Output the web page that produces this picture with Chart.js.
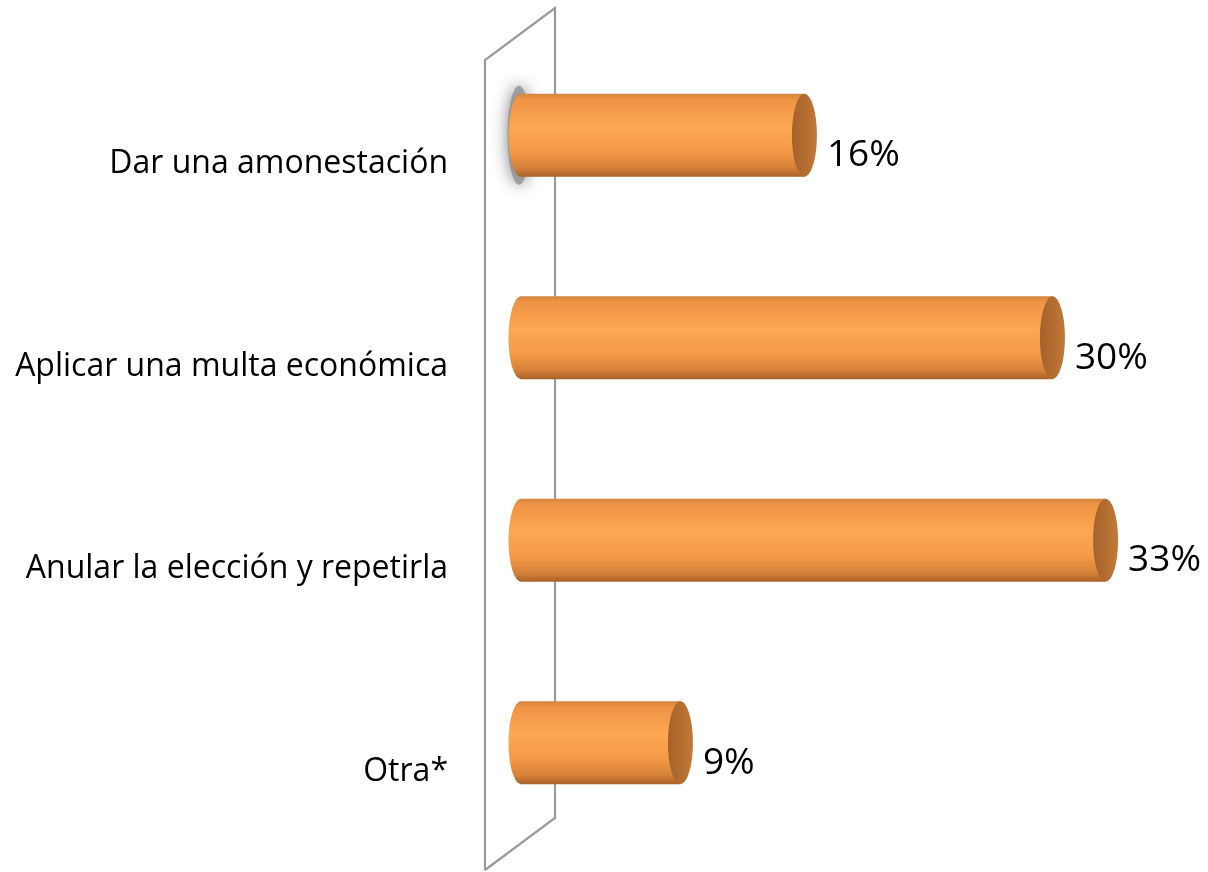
<!DOCTYPE html>
<html>
<head>
<meta charset="utf-8">
<script src="https://cdn.jsdelivr.net/npm/chart.js@4.4.1/dist/chart.umd.min.js"></script>
<style>
  html, body { margin: 0; padding: 0; background: #fff; overflow: hidden; }
  canvas { display: block; }
</style>
</head>
<body>
<canvas id="chart" width="1208" height="872"></canvas>
<script>
const categories = ['Dar una amonestación', 'Aplicar una multa económica', 'Anular la elección y repetirla', 'Otra*'];
const values = [16, 30, 33, 9];
const valueLabels = ['16%', '30%', '33%', '9%'];

const FONT = "'Open Sans', sans-serif";
const DEPTH = { x: 70, y: -52 };   // back wall offset
const CAP_RX = 12.5;

// pared lateral (perspectiva 3D)
const wallPlugin = {
    id: 'wall',
    beforeDatasetsDraw(chart) {
        const { ctx, chartArea: a } = chart;
        ctx.save();
        ctx.strokeStyle = '#9a9a9a';
        ctx.lineWidth = 2.2;
        ctx.beginPath();
        ctx.moveTo(a.left, a.bottom);
        ctx.lineTo(a.left, a.top);
        ctx.lineTo(a.left + DEPTH.x, a.top + DEPTH.y);
        ctx.lineTo(a.left + DEPTH.x, a.bottom + DEPTH.y);
        ctx.lineTo(a.left, a.bottom);
        ctx.stroke();
        ctx.restore();
    }
};

// cilindros + etiquetas
const cylinderPlugin = {
    id: 'cylinders',
    afterDatasetsDraw(chart) {
        const { ctx } = chart;
        const dx = DEPTH.x / 2 + 1, dy = DEPTH.y / 2;
        chart.getDatasetMeta(0).data.forEach((bar, i) => {
            const x0 = bar.base + dx, x1 = bar.x + dx;
            const yc = bar.y + dy, ry = bar.height / 2;
            const top = yc - ry, bottom = yc + ry;

            ctx.save();
            if (i === 0) {
                // sombra suave en el extremo izquierdo
                ctx.save();
                ctx.shadowColor = 'rgba(70,70,70,0.9)';
                ctx.shadowBlur = 16;
                ctx.fillStyle = 'rgba(140,140,140,0.75)';
                ctx.beginPath();
                ctx.ellipse(x0 - 2, yc, CAP_RX - 1, ry + 8, 0, 0, Math.PI * 2);
                ctx.fill();
                ctx.restore();
            }

            const g = ctx.createLinearGradient(0, top, 0, bottom);
            g.addColorStop(0, '#d4843e');
            g.addColorStop(0.07, '#ee9445');
            g.addColorStop(0.4, '#fca752');
            g.addColorStop(0.7, '#f39a47');
            g.addColorStop(0.9, '#d47f38');
            g.addColorStop(1, '#a86129');
            ctx.fillStyle = g;
            ctx.beginPath();
            ctx.moveTo(x1, top);
            ctx.lineTo(x0, top);
            ctx.ellipse(x0, yc, CAP_RX, ry, 0, -Math.PI / 2, Math.PI / 2, true);
            ctx.lineTo(x1, bottom);
            ctx.closePath();
            ctx.fill();

            const c = ctx.createLinearGradient(x1 - CAP_RX, 0, x1 + CAP_RX, 0);
            c.addColorStop(0, '#a5622b');
            c.addColorStop(0.6, '#b56f31');
            c.addColorStop(1, '#c27a38');
            ctx.fillStyle = c;
            ctx.beginPath();
            ctx.ellipse(x1, yc, CAP_RX, ry, 0, 0, Math.PI * 2);
            ctx.fill();
            ctx.restore();

            ctx.save();
            ctx.fillStyle = '#000';
            ctx.font = `37px ${FONT}`;
            ctx.textAlign = 'left';
            ctx.textBaseline = 'alphabetic';
            ctx.fillText(valueLabels[i], x1 + CAP_RX + 10, bar.y + 5);
            ctx.restore();
        });
    }
};

new Chart(document.getElementById('chart').getContext('2d'), {
    type: 'bar',
    plugins: [wallPlugin, cylinderPlugin],
    data: {
        labels: categories,
        datasets: [{
            data: values,
            backgroundColor: 'rgba(0,0,0,0)',
            borderWidth: 0,
            barPercentage: 0.41,
            categoryPercentage: 1,
        }]
    },
    options: {
        indexAxis: 'y',
        responsive: false,
        animation: false,
        layout: { padding: { top: 60, bottom: 2, left: 0, right: 103 } },
        scales: {
            x: {
                display: false,
                min: 0,
                max: 35,
            },
            y: {
                afterFit(scale) {
                    scale.width = 485;
                    scale.paddingTop = 0;
                    scale.paddingBottom = 0;
                },
                border: { display: false },
                grid: { display: false, drawTicks: false },
                ticks: {
                    padding: 37,
                    labelOffset: 3,
                    color: '#000',
                    font: { family: FONT, size: 32 },
                }
            }
        },
        plugins: {
            legend: { display: false },
            tooltip: { enabled: false },
        }
    }
});
</script>
</body>
</html>
